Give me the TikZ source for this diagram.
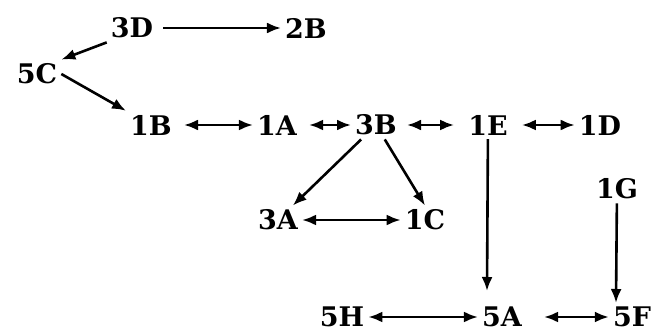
\documentclass[tikz,border=0pt]{standalone}
\usepackage{fontspec}
\setmainfont{DejaVu Serif}
\usetikzlibrary{arrows.meta}
\begin{document}
\begin{tikzpicture}[
  x = 1pt, y = -1pt,
  % No draw: the labels stand free, only the arrows are drawn.
  box/.style  = {font=\fontsize{27}{27}\selectfont\bfseries, inner sep=4pt},
  arr/.style  = {line width=2.6pt, -{Latex[length=14pt,width=11pt]}},
  both/.style = {line width=2.6pt,
                 {Latex[length=14pt,width=11pt]}-{Latex[length=14pt,width=11pt]}},
]
\useasboundingbox (0, 0) rectangle (664, 334);

% --- top rows
\node[box] (3D) at (132, 28) {3D};
\node[box] (2B) at (306, 28) {2B};
\node[box] (5C) at (37, 74) {5C};
\node[box] (1B) at (151, 125) {1B};
\node[box] (1A) at (277, 125) {1A};
\node[box] (3B) at (376, 125) {3B};
\node[box] (1E) at (488, 125) {1E};
\node[box] (1D) at (600, 125) {1D};

% --- middle and bottom
\node[box] (3A) at (278, 220) {3A};
\node[box] (1C) at (425, 220) {1C};
\node[box] (1G) at (617, 189) {1G};
\node[box] (5H) at (342, 317) {5H};
\node[box] (5A) at (502, 317) {5A};
\node[box] (5F) at (632, 317) {5F};
\coordinate (tipA) at (487, 291);
\coordinate (tipF) at (616, 303);

\draw[arr] (3D.south west) -- (5C.north east);
\draw[arr, shorten <=6pt] (3D) -- (2B);
\draw[arr] (5C.east) -- (1B.north west);
\draw[both, shorten <=8pt] (1B) -- (1A);
\draw[both, shorten <=8pt] (1A) -- (3B);
\draw[both, shorten <=6pt, shorten >=10pt] (3B) -- (1E);
\draw[both, shorten <=10pt] (1E) -- (1D);
\draw[arr] (3B) -- (3A);
\draw[arr] (3B) -- (1C.north);
\draw[both] (3A) -- (1C);
\draw[arr] (1E) -- (tipA);
\draw[arr] (1G) -- (tipF);
\draw[both] (5H) -- (5A);
\draw[both, shorten <=18pt] (5A) -- (5F);

\end{tikzpicture}
\end{document}
